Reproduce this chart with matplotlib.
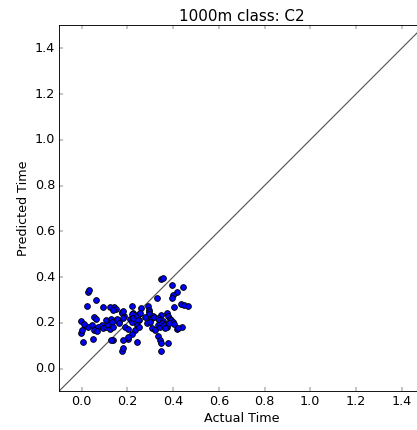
import numpy as np
import matplotlib
matplotlib.use('Agg')
import matplotlib.pyplot as plt

# --- data ---
actual_time = [
    0.029, 0.033, 0.064, 0.025, 0.094, 0.122, 0.141, 0.151, 0.137,
    0.178, 0.185, 0.054, 0.064, -0.002, 0.108, 0.129, 0.149, 0.163,
    0.347, 0.355, 0.331, 0.397, 0.445, 0.418, 0.401, 0.394,
    0.405, 0.434, 0.449, 0.464, 0.219, 0.258, 0.289, 0.293, 0.294,
    0.226, 0.245, 0.230, 0.296, 0.303, 0.311,
    0.347, 0.372, 0.379, 0.386, 0.318, 0.332, 0.339, 0.354,
    0.211, 0.252, 0.220, 0.391, 0.398,
    -0.003, 0.004, 0.014, 0.029, 0.044, 0.058, 0.051,
    0.073, 0.087, 0.094, 0.106, 0.117, 0.124, 0.131, 0.138, 0.153,
    0.165, 0.175, 0.182, 0.189, 0.179,
    0.219, 0.226, 0.241, 0.248, 0.241, 0.233, 0.255, 0.277, 0.284,
    0.219, 0.204, 0.241, 0.182, 0.175, 0.179, 0.138, 0.127,
    0.003, 0.054, 0.068, 0.201, 0.201, 0.252,
    0.299, 0.306, 0.321, 0.335, 0.343, 0.353, 0.361, 0.372, 0.382,
    0.405, 0.416, 0.437, 0.366, 0.420,
    0.332, 0.343, 0.347, 0.347, 0.376, 0.010,
]
predicted_time = [
    0.336, 0.342, 0.301, 0.275, 0.270, 0.270, 0.270, 0.262, 0.255,
    0.247, 0.228, 0.225, 0.218, 0.206, 0.211, 0.218, 0.213, 0.206,
    0.393, 0.395, 0.307, 0.365, 0.355, 0.336, 0.322, 0.307,
    0.270, 0.282, 0.278, 0.273, 0.272, 0.265, 0.273, 0.257, 0.248,
    0.244, 0.233, 0.225, 0.240, 0.218, 0.228,
    0.234, 0.244, 0.230, 0.215, 0.224, 0.221, 0.211, 0.208,
    0.218, 0.211, 0.203, 0.211, 0.203,
    0.154, 0.117, 0.186, 0.180, 0.190, 0.171, 0.128,
    0.183, 0.190, 0.176, 0.183, 0.190, 0.171, 0.205, 0.183, 0.215,
    0.200, 0.241, 0.219, 0.183, 0.253,
    0.238, 0.219, 0.230, 0.212, 0.190, 0.168, 0.244, 0.227, 0.198,
    0.151, 0.128, 0.117, 0.125, 0.078, 0.088, 0.125, 0.125,
    0.168, 0.168, 0.165, 0.173, 0.136, 0.180,
    0.205, 0.176, 0.168, 0.190, 0.180, 0.198, 0.190, 0.180, 0.200,
    0.195, 0.171, 0.183, 0.175, 0.178,
    0.142, 0.125, 0.110, 0.078, 0.113, 0.195,
]
axis_limits = [-0.1, 1.5]
tick_values = [0.0, 0.2, 0.4, 0.6, 0.8, 1.0, 1.2, 1.4]

# --- plot ---
plt.style.use('classic')
fig = plt.figure(figsize=(417 / 64, 430 / 64), dpi=64, facecolor='white')
ax = fig.add_axes([0.141, 0.0898, 0.877, 0.851])

ax.scatter(actual_time, predicted_time, s=42, c='b', edgecolors='k', linewidths=1.0, zorder=3)
ax.plot(axis_limits, axis_limits, color='#555555', linewidth=1.3)

ax.set_xlim(axis_limits)
ax.set_ylim(axis_limits)
ax.set_xticks(tick_values)
ax.set_yticks(tick_values)
ax.tick_params(labelsize=14.4)
ax.set_title('1000m class: C2', fontsize=17)
ax.set_xlabel('Actual Time', fontsize=14.4)
ax.set_ylabel('Predicted Time', fontsize=14.4)

fig.savefig('out.png', dpi=64, facecolor='white')
